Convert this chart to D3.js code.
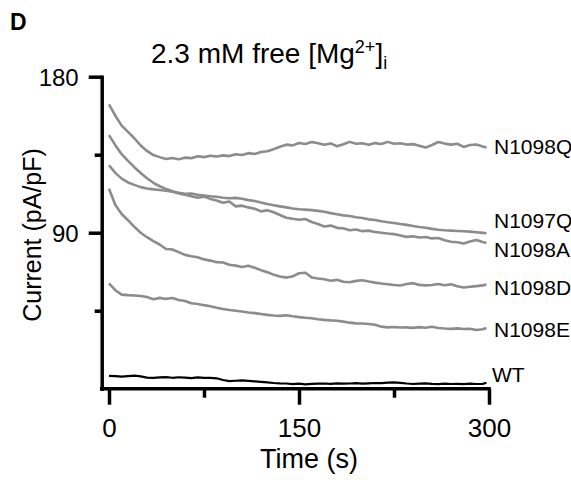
<!DOCTYPE html>
<meta charset="utf-8">
<style>
body { margin: 0; background: #fff; }
svg { font-family: "Liberation Sans", Arial, sans-serif; }
.trace { fill: none; stroke-linejoin: round; }
</style>
<body>
<script src="https://d3js.org/d3.v7.min.js"></script>
<script>

// sample times (s)
var time = [0,5,10,15,20,25,30,35,40,45,50,55,60,65,70,75,80,85,90,95,
  100,105,110,115,120,125,130,135,140,145,150,155,160,165,170,175,180,185,190,195,
  200,205,210,215,220,225,230,235,240,245,250,255,260,265,270,275,280,285,290,295,298];

// current traces (pA/pF)
var n1098Q = [164.0,157.5,151.8,148.2,144.5,140.3,137.2,134.8,133.6,132.5,
  133.1,132.4,133.3,133.0,134.1,133.6,134.4,134.0,134.6,134.2,
  135.3,134.8,135.9,135.4,136.6,137.0,138.2,139.6,140.8,140.4,
  141.8,141.2,142.3,141.6,140.7,141.5,139.9,141.0,142.4,141.3,
  141.6,140.8,141.7,141.2,142.4,141.3,141.6,140.9,141.1,140.2,
  139.1,140.6,142.3,141.4,140.8,141.3,139.5,140.6,140.9,139.7,139.2];

var n1097Q = [128.9,124.5,121.2,119.0,117.6,116.3,115.5,115.0,114.6,114.2,
  113.7,113.1,112.4,112.6,111.9,111.5,111.0,110.7,110.2,109.9,
  110.1,109.6,108.8,108.3,107.4,106.6,105.8,105.2,104.6,104.0,
  103.5,103.3,103.0,102.6,102.1,101.3,100.6,100.0,99.6,98.9,
  98.5,97.7,97.3,96.6,96.0,95.6,95.0,94.5,93.9,93.3,
  92.9,92.2,91.7,91.4,91.2,91.0,90.8,90.6,90.3,89.9,89.7];

var n1098A = [146.3,140.5,135.3,131.4,127.8,124.4,121.4,118.8,116.8,115.3,
  113.9,112.6,111.9,111.0,110.2,110.8,109.5,108.6,107.3,108.0,
  105.2,105.6,104.6,103.8,102.3,103.0,101.8,100.2,98.6,98.0,
  97.5,97.9,96.2,95.0,93.6,94.1,92.8,92.5,91.4,91.8,
  90.9,91.2,90.4,90.0,89.5,89.2,88.4,87.6,87.9,87.2,
  87.5,86.7,86.9,85.6,84.8,84.5,83.8,84.9,85.8,84.6,84.1];

var n1098D = [115.4,106.0,100.8,97.2,93.4,90.0,87.4,85.1,83.2,80.6,
  80.3,78.8,77.2,76.4,75.8,74.6,73.9,73.0,72.8,71.5,
  71.0,70.2,70.9,69.8,68.4,67.2,65.8,64.7,64.1,64.8,
  66.6,66.9,64.2,63.6,63.1,62.3,62.8,61.7,61.4,62.2,
  62.6,61.8,61.2,60.7,60.3,59.8,59.5,60.4,60.9,59.9,
  59.6,59.8,60.4,59.7,60.2,59.1,58.4,58.8,59.2,59.6,60.1];

var n1098E = [60.8,56.8,54.3,54.0,53.8,53.5,52.9,51.6,52.4,51.8,
  52.3,51.2,50.6,49.3,48.9,48.2,47.6,46.7,46.0,45.4,
  45.0,44.5,44.0,43.6,43.1,42.6,42.2,42.0,42.4,41.8,
  41.3,40.9,40.6,40.1,39.7,39.4,39.2,38.7,38.1,37.7,
  37.6,37.3,36.9,35.8,35.4,35.6,35.3,35.4,35.1,35.5,
  35.2,35.7,35.0,34.7,34.5,34.8,34.4,34.6,33.9,34.3,35.0];

var wt = [7.4,7.2,7.0,7.3,7.5,7.1,6.4,6.2,6.5,6.7,
  6.3,6.6,6.4,6.1,6.5,6.2,6.3,6.0,5.0,4.4,
  4.6,4.8,4.5,4.2,3.9,3.6,3.3,3.1,3.0,2.6,
  2.9,2.5,2.8,2.9,3.0,2.8,3.1,2.9,3.0,3.2,
  2.9,3.1,3.3,3.2,3.5,3.6,3.4,3.0,2.7,2.9,
  3.1,2.8,2.6,2.9,2.7,2.8,2.6,2.9,2.7,2.8,3.4];

var seriesNames = ["N1098Q", "N1097Q", "N1098A", "N1098D", "N1098E", "WT"];
var seriesValues = [n1098Q, n1097Q, n1098A, n1098D, n1098E, wt];
var seriesColors = ["#8c8c8c", "#8c8c8c", "#8c8c8c", "#8c8c8c", "#8c8c8c", "#000000"];
// where each end label sits (pA/pF)
var labelValues = [139.7, 97.0, 80.3, 58.4, 34.2, 8.2];

var yMajorTicks = [90, 180];
var yMinorTicks = [45, 135];
var xMajorTicks = [0, 150, 300];
var xMinorTicks = [75, 225];

var W = 571, H = 482;
var axisX = 101.7;

var x = d3.scaleLinear().domain([0, 300]).range([109, 489]);
var y = d3.scaleLinear().domain([0, 180]).range([388.7, 76.7]);

var svg = d3.select("body").append("svg")
    .attr("width", W)
    .attr("height", H);

// panel letter
svg.append("text")
    .attr("x", 10).attr("y", 30)
    .style("font-weight", "bold")
    .style("font-size", "23px")
    .text("D");

// title
var title = svg.append("text")
    .attr("x", 151).attr("y", 63)
    .style("font-size", "28px");
title.append("tspan").text("2.3 mM free [Mg");
title.append("tspan").attr("dy", "-10").style("font-size", "18px").text("2+");
title.append("tspan").attr("dy", "10").text("]");
title.append("tspan").attr("dy", "6").style("font-size", "18px").text("i");

// traces
var line = d3.line()
    .x(function(d, i) { return x(time[i]); })
    .y(function(d) { return y(d); });

svg.selectAll(".trace")
    .data(seriesValues)
  .enter().append("path")
    .attr("class", "trace")
    .attr("d", line)
    .attr("stroke", function(d, i) { return seriesColors[i]; })
    .attr("stroke-width", function(d, i) { return i === 5 ? 2.2 : 2.6; });

// end labels
svg.selectAll(".lab")
    .data(seriesNames)
  .enter().append("text")
    .attr("class", "lab")
    .attr("x", function(d, i) { return i === 5 ? 492 : 494; })
    .attr("y", function(d, i) { return y(labelValues[i]); })
    .attr("dy", "0.36em")
    .style("font-size", "21px")
    .text(function(d) { return d; });

function styleAxis(g) {
  g.attr("font-family", null).attr("font-size", null);
  g.selectAll("line").attr("stroke", "#000").attr("stroke-width", 3.5);
  g.select(".domain").attr("stroke", "#000").attr("stroke-width", 3.5)
    .attr("stroke-linecap", "square");
}

// y axis
var yMajor = svg.append("g")
    .attr("transform", "translate(" + axisX + ",0)")
    .call(d3.axisLeft(y).tickValues(yMajorTicks).tickSize(13).tickSizeOuter(0).tickPadding(10))
    .call(styleAxis);
yMajor.selectAll("text").style("font-size", "24px").attr("dy", "0.36em").attr("fill", "#000");

svg.append("g")
    .attr("transform", "translate(" + axisX + ",0)")
    .call(d3.axisLeft(y).tickValues(yMinorTicks).tickSize(7).tickSizeOuter(0).tickFormat(""))
    .call(styleAxis)
    .select(".domain").remove();

// x axis
var xMajor = svg.append("g")
    .attr("transform", "translate(0," + y(0) + ")")
    .call(d3.axisBottom(x).tickValues(xMajorTicks).tickSize(16).tickSizeOuter(0).tickPadding(14))
    .call(styleAxis);
xMajor.select(".domain").attr("d", "M" + axisX + ",0H" + x(300));
xMajor.selectAll("text").style("font-size", "26px").attr("fill", "#000");

svg.append("g")
    .attr("transform", "translate(0," + y(0) + ")")
    .call(d3.axisBottom(x).tickValues(xMinorTicks).tickSize(9).tickSizeOuter(0).tickFormat(""))
    .call(styleAxis)
    .select(".domain").remove();

// axis titles
svg.append("text")
    .attr("transform", "translate(41,235) rotate(-90)")
    .attr("text-anchor", "middle")
    .style("font-size", "25px")
    .text("Current (pA/pF)");

svg.append("text")
    .attr("x", 309).attr("y", 468)
    .attr("text-anchor", "middle")
    .style("font-size", "27px")
    .text("Time (s)");

</script>
</body>
